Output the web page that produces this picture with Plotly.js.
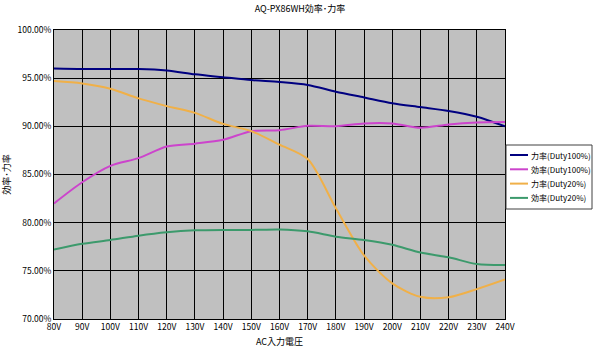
<!DOCTYPE html>
<html>
<head>
<meta charset="utf-8">
<script src="https://cdn.plot.ly/plotly-3.0.1.min.js"></script>
<style>html,body{margin:0;padding:0;background:#fff;}#chart{width:600px;height:353px;}</style>
</head>
<body>
<div id="chart"></div>
<script>
const voltages = [80, 90, 100, 110, 120, 130, 140, 150, 160, 170, 180, 190, 200, 210, 220, 230, 240];
const pfDuty100  = [96.0, 95.95, 95.95, 95.95, 95.8, 95.4, 95.1, 94.8, 94.6, 94.3, 93.6, 93.0, 92.4, 92.0, 91.6, 91.0, 90.0];
const effDuty100 = [82.0, 84.2, 85.9, 86.7, 87.9, 88.2, 88.6, 89.5, 89.6, 90.05, 90.0, 90.3, 90.3, 89.85, 90.2, 90.4, 90.45];
const pfDuty20   = [94.7, 94.45, 93.9, 92.9, 92.1, 91.4, 90.25, 89.5, 88.1, 86.6, 81.5, 76.6, 73.7, 72.3, 72.25, 73.1, 74.1];
const effDuty20  = [77.2, 77.8, 78.2, 78.65, 79.0, 79.2, 79.25, 79.25, 79.3, 79.1, 78.55, 78.2, 77.7, 76.9, 76.4, 75.7, 75.6];
const seriesNames = ['力率(Duty100%)', '効率(Duty100%)', '力率(Duty20%)', '効率(Duty20%)'];
const xTickLabels = voltages.map(v => v + 'V');
const yTicks = [70, 75, 80, 85, 90, 95, 100];
const yTickLabels = yTicks.map(v => v.toFixed(2) + '%');

const colors = ['#000080', '#cc44cc', '#f0b048', '#3c9a6c'];
const data = [pfDuty100, effDuty100, pfDuty20, effDuty20].map((ys, i) => ({
  x: voltages, y: ys, name: seriesNames[i], type: 'scatter', mode: 'lines',
  line: {color: colors[i], width: 2, shape: 'spline', smoothing: 0.8}
}));

const fam = '"Noto Sans CJK JP", "DejaVu Sans", sans-serif';
const W = 600, H = 353, ML = 54, MR = 95, MT = 30, MB = 34;
const pw = W - ML - MR, ph = H - MT - MB;
const px = x => (x - ML) / pw;
const py = y => (H - MB - y) / ph;

// manual legend (box + sample lines + labels)
const shapes = [{type: 'rect', xref: 'paper', yref: 'paper', x0: px(506), x1: px(592), y0: py(145), y1: py(209),
  line: {color: '#404040', width: 1}, fillcolor: '#ffffff', layer: 'above'}];
const annotations = [];
seriesNames.forEach((n, i) => {
  const yy = 155 + i * 14.3;
  shapes.push({type: 'line', xref: 'paper', yref: 'paper', x0: px(510), x1: px(528), y0: py(yy), y1: py(yy),
    line: {color: colors[i], width: 2}, layer: 'above'});
  annotations.push({xref: 'paper', yref: 'paper', x: px(529), y: py(yy), xanchor: 'left', yanchor: 'middle',
    text: n, showarrow: false, font: {family: fam, size: 8, color: '#000'}});
});

const layout = {
  width: W, height: H,
  margin: {l: ML, r: MR, t: MT, b: MB, pad: 0, autoexpand: false},
  paper_bgcolor: '#ffffff', plot_bgcolor: '#c0c0c0',
  font: {family: fam, size: 9, color: '#000'},
  title: {text: 'AQ-PX86WH効率･力率', font: {family: fam, size: 9, color: '#000'}, x: 0.5, xanchor: 'center', y: 0.985, yanchor: 'top'},
  xaxis: {
    range: [80, 240], tickvals: voltages, ticktext: xTickLabels,
    showgrid: true, gridcolor: '#000', gridwidth: 1, zeroline: false,
    showline: true, linecolor: '#000', linewidth: 1, mirror: true,
    ticks: '', tickfont: {family: fam, size: 8.5},
    title: {text: 'AC入力電圧', font: {family: fam, size: 9}, standoff: 7}
  },
  yaxis: {
    range: [70, 100], tickvals: yTicks, ticktext: yTickLabels,
    showgrid: true, gridcolor: '#000', gridwidth: 1, zeroline: false,
    showline: true, linecolor: '#000', linewidth: 1, mirror: true,
    ticks: '', tickfont: {family: fam, size: 8.5},
    title: {text: '効率･力率', font: {family: fam, size: 9}, standoff: 6}
  },
  showlegend: false,
  shapes: shapes,
  annotations: annotations
};
Plotly.newPlot('chart', data, layout, {displayModeBar: false, staticPlot: true});
</script>
</body>
</html>
